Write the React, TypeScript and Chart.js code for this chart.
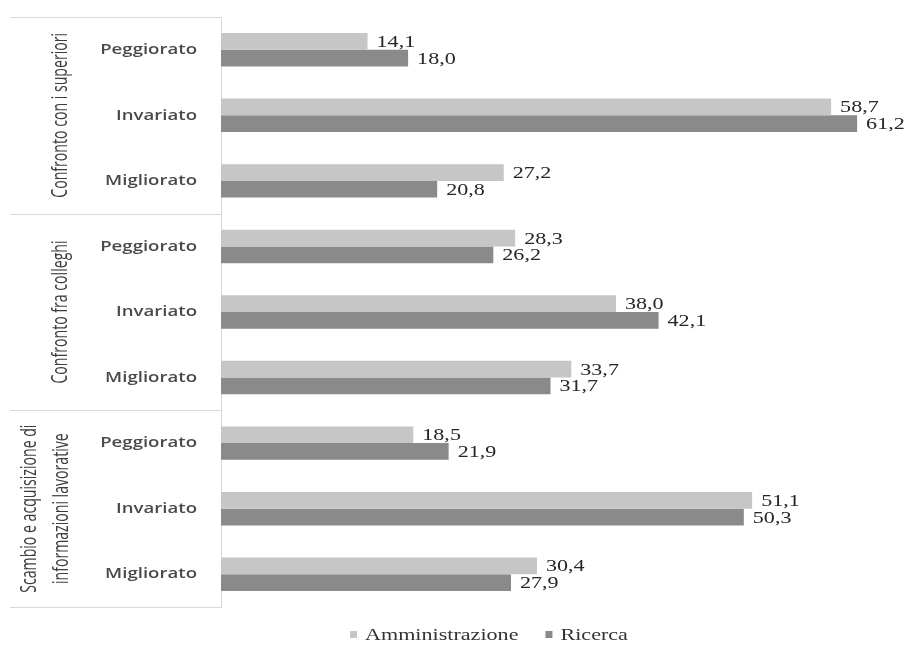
import React, { useEffect, useRef } from "react";
import { Chart, registerables } from "chart.js";

Chart.register(...registerables);

// Survey groups (label lines as drawn, rotated, on the left)
const groupLines: string[][] = [
  ["Confronto con i superiori"],
  ["Confronto fra colleghi"],
  ["Scambio e acquisizione di", "informazioni lavorative"],
];
const outcomes = ["Peggiorato", "Invariato", "Migliorato"];
const categories = groupLines.flatMap(() => outcomes);

const seriesNames = ["Amministrazione", "Ricerca"];
const amministrazione = [14.1, 58.7, 27.2, 28.3, 38.0, 33.7, 18.5, 51.1, 30.4];
const ricerca = [18.0, 61.2, 20.8, 26.2, 42.1, 31.7, 21.9, 50.3, 27.9];
const seriesColors = ["#c6c6c6", "#8a8a8a"];

const fmt = (v: number) => v.toFixed(1).replace(".", ",");

function stretchedText(
  ctx: CanvasRenderingContext2D,
  text: string,
  x: number,
  y: number,
  sx: number,
  align: CanvasTextAlign
) {
  ctx.save();
  ctx.translate(x, y);
  ctx.scale(sx, 1);
  ctx.textAlign = align;
  ctx.fillText(text, 0, 0);
  ctx.restore();
}

const decorations = {
  id: "decorations",
  afterDraw(chart: any) {
    const ctx: CanvasRenderingContext2D = chart.ctx;
    const area = chart.chartArea;
    const yScale = chart.scales.y;
    const perGroup = outcomes.length;
    const step =
      categories.length > 1
        ? yScale.getPixelForValue(1) - yScale.getPixelForValue(0)
        : area.bottom - area.top;

    ctx.save();

    // group separators
    ctx.strokeStyle = "#d9d9d9";
    ctx.lineWidth = 1;
    for (let g = 0; g <= groupLines.length; g++) {
      const idx = g * perGroup;
      const y = Math.round(yScale.getPixelForValue(0) - step / 2 + idx * step) + 0.5;
      ctx.beginPath();
      ctx.moveTo(10, y);
      ctx.lineTo(area.left, y);
      ctx.stroke();
    }

    // outcome labels
    ctx.fillStyle = "#4a4a4a";
    ctx.font = "600 15px 'Open Sans'";
    ctx.textBaseline = "middle";
    categories.forEach((c, i) => {
      const y = yScale.getPixelForValue(i);
      stretchedText(ctx, c, 197, y, 1.24, "right");
    });

    // group labels, rotated
    ctx.fillStyle = "#3c3c3c";
    ctx.font = "17px 'Open Sans'";
    ctx.textAlign = "center";
    ctx.textBaseline = "middle";
    groupLines.forEach((lines, g) => {
      const y0 = yScale.getPixelForValue(g * perGroup);
      const y1 = yScale.getPixelForValue(g * perGroup + perGroup - 1);
      const cy = (y0 + y1) / 2;
      const xs = lines.length === 1 ? [61] : [30, 62];
      lines.forEach((t, k) => {
        const w = ctx.measureText(t).width;
        ctx.save();
        ctx.translate(xs[k], cy);
        ctx.scale(1.3, 1);
        ctx.rotate(-Math.PI / 2);
        ctx.fillText(t, 0, 0, w * 0.83);
        ctx.restore();
      });
    });

    // value labels
    ctx.fillStyle = "#262626";
    ctx.font = "16px 'Liberation Serif'";
    ctx.textBaseline = "alphabetic";
    chart.data.datasets.forEach((ds: any, di: number) => {
      const meta = chart.getDatasetMeta(di);
      meta.data.forEach((el: any, i: number) => {
        stretchedText(ctx, fmt(ds.data[i]), el.x + 9, el.y + 5.5, 1.38, "left");
      });
    });

    // legend
    ctx.font = "17px 'Liberation Serif'";
    ctx.textBaseline = "alphabetic";
    let lx = 350;
    const ly = 640;
    seriesNames.forEach((name, i) => {
      ctx.fillStyle = seriesColors[i];
      ctx.fillRect(lx, ly - 9, 7, 7);
      ctx.fillStyle = "#333333";
      const tw = ctx.measureText(name).width * 1.3;
      stretchedText(ctx, name, lx + 15, ly, 1.3, "left");
      lx += 15 + tw + 27;
    });

    ctx.restore();
  },
};

export default function App() {
  const canvasRef = useRef<HTMLCanvasElement | null>(null);

  useEffect(() => {
    if (!canvasRef.current) return;
    const chart = new Chart(canvasRef.current, {
      type: "bar",
      data: {
        labels: categories,
        datasets: [
          {
            label: seriesNames[0],
            data: amministrazione,
            backgroundColor: seriesColors[0],
            borderWidth: 0,
            barPercentage: 1,
            categoryPercentage: 0.51,
          },
          {
            label: seriesNames[1],
            data: ricerca,
            backgroundColor: seriesColors[1],
            borderWidth: 0,
            barPercentage: 1,
            categoryPercentage: 0.51,
          },
        ],
      },
      options: {
        indexAxis: "y",
        animation: false,
        responsive: false,
        maintainAspectRatio: false,
        layout: { padding: { left: 0, right: 5, top: 17, bottom: 38 } },
        plugins: {
          legend: { display: false },
          tooltip: { enabled: false },
        },
        scales: {
          x: { display: false, min: 0, max: 66 },
          y: {
            display: true,
            grid: { display: false },
            border: { display: true, color: "#d9d9d9", width: 1 },
            ticks: { display: false },
            afterFit: (scale: any) => {
              scale.width = 221;
            },
          },
        },
      },
      plugins: [decorations],
    });
    return () => chart.destroy();
  }, []);

  return (
    <div style={{ position: "fixed", left: 0, top: 0, width: 912, height: 645, background: "#ffffff" }}>
      <canvas ref={canvasRef} width={912} height={645} style={{ display: "block" }} />
    </div>
  );
}
